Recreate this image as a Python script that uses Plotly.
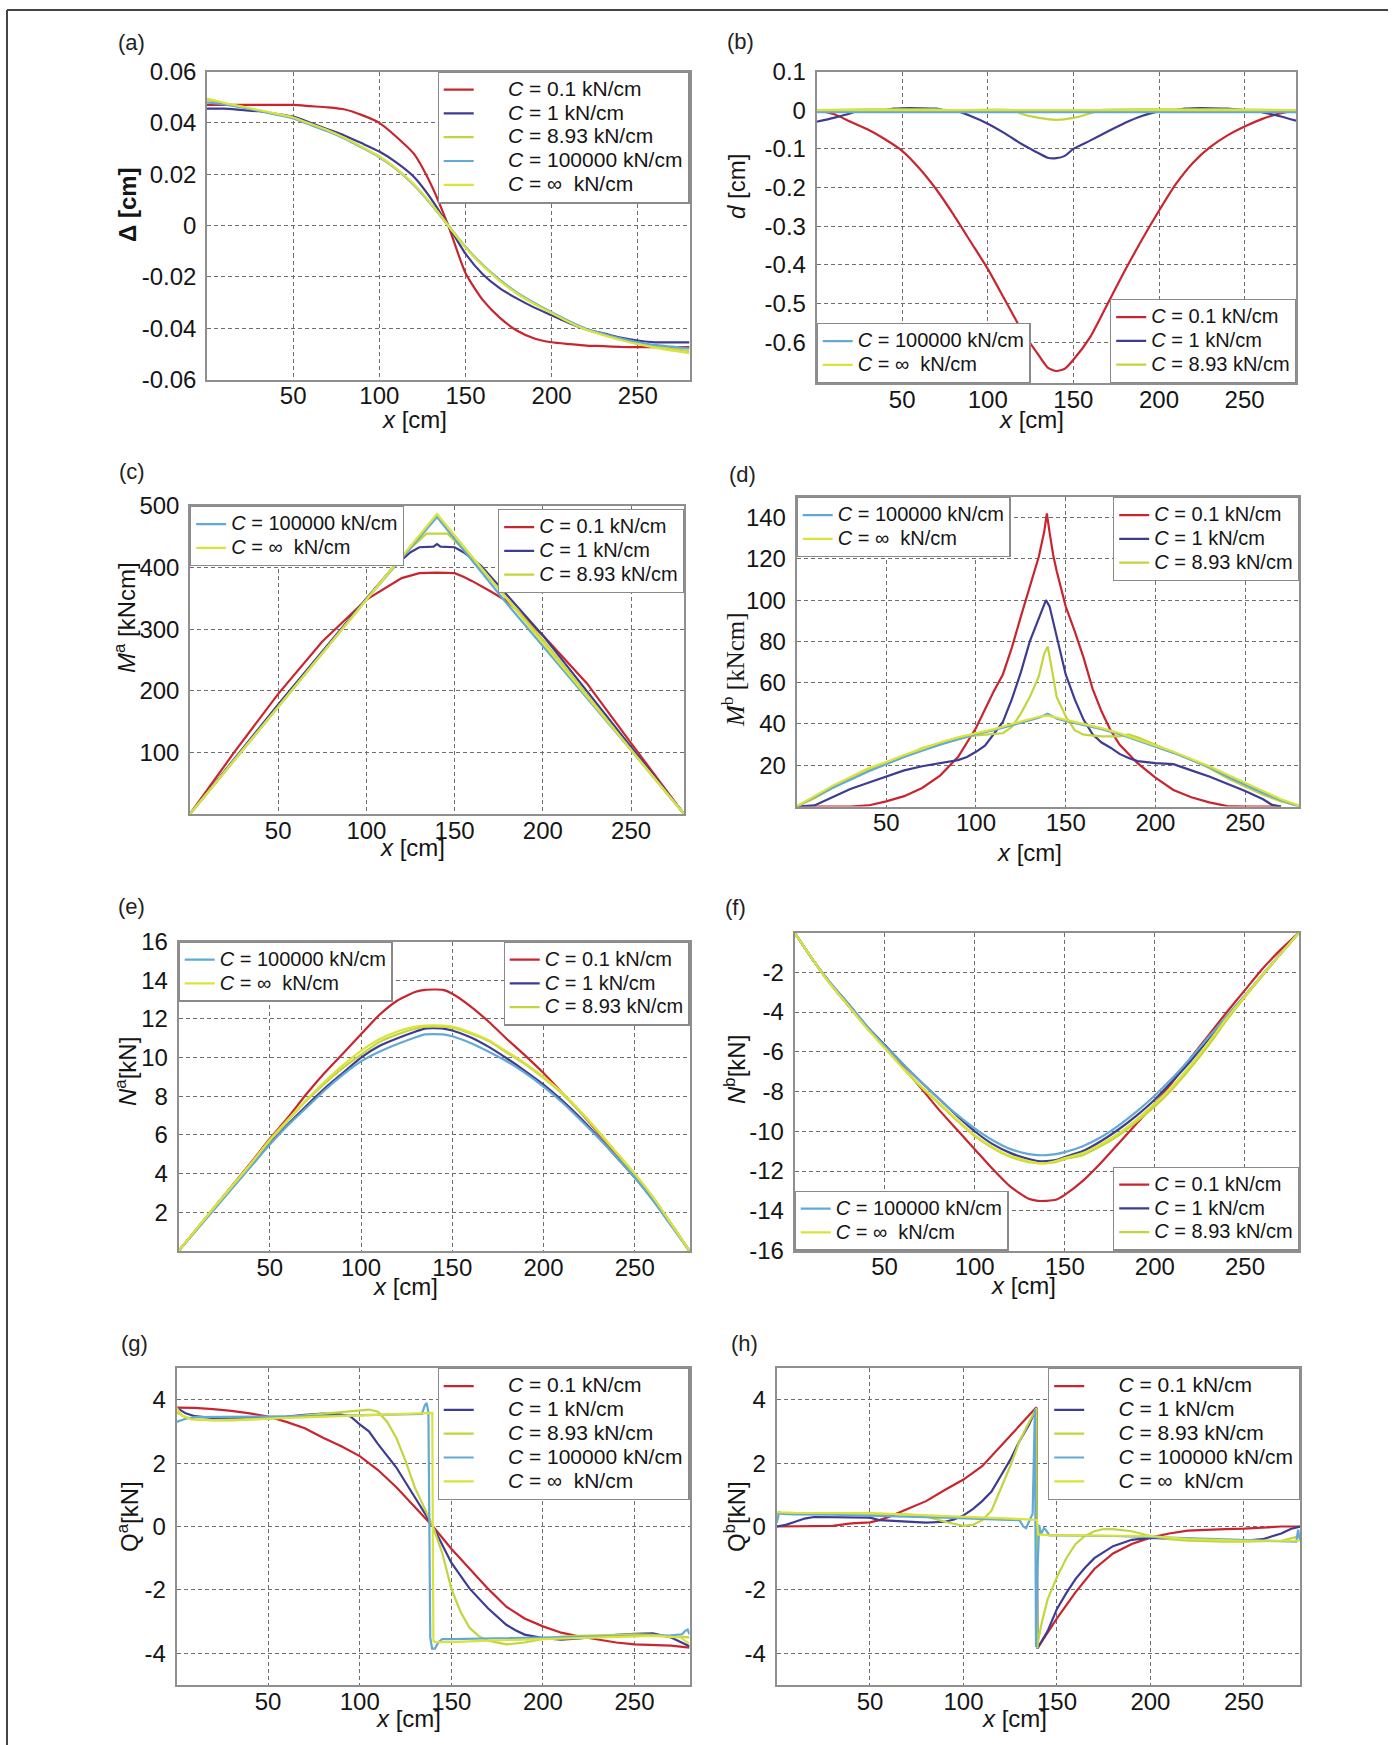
import plotly.graph_objects as go

W, H = 1396, 1745
FONT = "Liberation Sans, Arial, sans-serif"
SERIF = "Liberation Serif, Times New Roman, serif"
TXT = "#151515"

SERIES = ["0.1", "1", "8.93", "100000", "∞"]
COLORS = ["#c9252f", "#3d3c92", "#c3d53c", "#63a9d6", "#dae33a"]

X_TICKS = [50, 100, 150, 200, 250]

# ---------------- (a) Delta [cm] ----------------
A_X = [0, 10, 20, 30, 40, 50, 60, 70, 80, 90, 100, 110, 120, 130, 140, 150, 160, 170, 180, 190, 200, 210, 220, 230, 240, 250, 260, 270, 280]
A_RED = [0.047, 0.047, 0.047, 0.047, 0.047, 0.047, 0.0465, 0.046, 0.0452, 0.043, 0.040, 0.0345, 0.028, 0.016, 0.0, -0.0185, -0.029, -0.036, -0.041, -0.044, -0.0455, -0.0462, -0.0468, -0.047, -0.0473, -0.0474, -0.0474, -0.0474, -0.0474]
A_BLUE = [0.0455, 0.0455, 0.045, 0.0445, 0.0435, 0.0424, 0.040, 0.0375, 0.035, 0.032, 0.0288, 0.0245, 0.019, 0.0105, 0.0, -0.011, -0.019, -0.0245, -0.0285, -0.032, -0.035, -0.038, -0.0405, -0.042, -0.0437, -0.0448, -0.0455, -0.0455, -0.0455]
A_Y893 = [0.049, 0.0475, 0.0462, 0.0448, 0.0435, 0.042, 0.0395, 0.037, 0.034, 0.0305, 0.0268, 0.022, 0.016, 0.0085, 0.0, -0.0085, -0.0155, -0.0215, -0.0265, -0.0305, -0.034, -0.0375, -0.0405, -0.0425, -0.0442, -0.0458, -0.047, -0.048, -0.049]
A_LB = [0.048, 0.0472, 0.046, 0.0447, 0.0432, 0.0417, 0.0392, 0.0367, 0.0338, 0.0303, 0.0266, 0.0219, 0.0158, 0.0083, 0.0, -0.0083, -0.0153, -0.0212, -0.0262, -0.0302, -0.0338, -0.0372, -0.0402, -0.0422, -0.044, -0.0455, -0.0465, -0.0472, -0.048]
A_INF = [0.0495, 0.0478, 0.0464, 0.045, 0.0436, 0.0421, 0.0396, 0.0371, 0.0341, 0.0306, 0.0269, 0.0221, 0.0161, 0.0086, 0.0, -0.0086, -0.0156, -0.0216, -0.0266, -0.0306, -0.0341, -0.0376, -0.0406, -0.0427, -0.0446, -0.0462, -0.0476, -0.0488, -0.0497]

# ---------------- (b) d [cm] ----------------
B_X_RED = [0, 10, 20, 30, 40, 50, 60, 70, 80, 90, 100, 110, 120, 130, 135, 140, 145, 150, 160, 170, 180, 190, 200, 210, 220, 230, 240, 250, 260, 270, 280]
B_RED = [0, -0.01, -0.03, -0.05, -0.075, -0.105, -0.15, -0.205, -0.27, -0.34, -0.41, -0.49, -0.57, -0.635, -0.665, -0.674, -0.668, -0.645, -0.585, -0.5, -0.415, -0.335, -0.26, -0.19, -0.135, -0.095, -0.065, -0.042, -0.023, -0.009, 0]
B_X_BLUE = [0, 10, 20, 25, 30, 40, 45, 50, 60, 70, 75, 80, 90, 100, 110, 120, 125, 130, 135, 140, 145, 150, 160, 170, 180, 190, 200, 210, 215, 220, 230, 240, 250, 255, 260, 270, 280]
B_BLUE = [-0.03, -0.02, -0.008, 0, 0, 0, 0.004, 0.005, 0.005, 0.004, 0, 0, -0.015, -0.035, -0.06, -0.088, -0.1, -0.112, -0.123, -0.124, -0.118, -0.1, -0.078, -0.055, -0.033, -0.015, -0.003, 0, 0.004, 0.005, 0.005, 0.004, 0, 0, -0.005, -0.015, -0.027]
B_X_Y893 = [0, 30, 70, 80, 115, 120, 130, 140, 150, 160, 165, 200, 240, 280]
B_Y893 = [0, 0.002, 0.002, 0, 0, -0.01, -0.02, -0.025, -0.02, -0.008, 0, 0.002, 0.002, 0]
B_X_LB = [0, 70, 140, 210, 280]
B_LB = [-0.005, -0.005, -0.005, -0.005, -0.005]
B_X_INF = [0, 70, 140, 210, 280]
B_INF = [0, 0, 0, 0, 0]

# ---------------- (c) M^a [kNcm] ----------------
C_X_RED = [0, 10, 25, 50, 75, 100, 110, 120, 125, 130, 140, 150, 155, 160, 170, 180, 200, 225, 250, 280]
C_RED = [0, 40, 100, 195, 280, 348, 366, 383, 387, 391, 392, 391, 385, 378, 362, 345, 290, 212, 115, 0]
C_X_BLUE = [0, 50, 100, 115, 125, 130, 138, 140, 142, 150, 155, 165, 200, 250, 280]
C_BLUE = [0, 178, 350, 400, 425, 433, 434, 438, 434, 433, 425, 403, 290, 108, 0]
C_X_Y893 = [0, 50, 100, 120, 134, 146, 160, 200, 250, 280]
C_Y893 = [0, 174, 348, 418, 455, 455, 415, 283, 104, 0]
C_X_LB = [0, 50, 100, 140, 180, 250, 280]
C_LB = [0, 174, 348, 482, 340, 104, 0]
C_X_INF = [0, 70, 140, 210, 280]
C_INF = [0, 243, 487, 243, 0]

# ---------------- (d) M^b [kNcm] ----------------
D_X_RED = [0, 30, 40, 50, 60, 70, 80, 90, 100, 110, 115, 120, 125, 130, 135, 138, 139.5, 141, 143, 145, 150, 155, 160, 165, 170, 175, 180, 190, 200, 210, 220, 230, 240, 250, 270]
D_RED = [0, 0, 0.5, 2.5, 5, 9, 15, 24, 38, 56, 64, 77, 92, 106, 121, 133, 142, 133, 122, 114, 97, 85, 72, 57, 46, 37, 30, 21, 14, 8, 4.5, 2, 0.2, 0, 0]
D_X_BLUE = [0, 10, 20, 30, 40, 50, 60, 70, 80, 90, 95, 100, 105, 110, 115, 120, 125, 130, 135, 139, 141, 145, 150, 155, 160, 165, 170, 175, 180, 185, 190, 200, 210, 220, 230, 240, 250, 260, 265, 270]
D_BLUE = [0, 0.5, 4.5, 8.5, 11.5, 14.5, 17.5, 19.5, 21, 22.5, 24, 26.5, 29.5, 35, 41, 52, 65, 80, 91, 100, 97, 82, 64, 52, 42, 35, 31, 28.5, 25.5, 23.5, 22, 21, 20.5, 17.5, 14.5, 11, 7.5, 3.5, 0.8, 0]
D_X_Y893 = [0, 10, 20, 30, 40, 50, 60, 70, 80, 90, 100, 110, 115, 120, 125, 130, 135, 138, 140, 142, 145, 150, 155, 160, 170, 180, 185, 190, 200, 210, 220, 230, 240, 250, 260, 270, 280]
D_Y893 = [0, 4, 9, 13.8, 17.8, 21, 24.3, 28.3, 30.7, 33, 34.5, 35, 35.5, 38.5, 45, 53, 63, 74, 77.5, 68, 53, 43.7, 37, 34.8, 34, 34, 35, 33.5, 30, 26.5, 22.7, 18.6, 13.8, 9.7, 5.7, 2.4, 0.3]
D_X_LB = [0, 20, 40, 50, 60, 70, 80, 90, 100, 110, 120, 130, 135, 140, 145, 150, 160, 170, 180, 190, 200, 210, 220, 230, 240, 250, 260, 270, 280]
D_LB = [0, 9, 17, 20.5, 24, 27, 30, 32.5, 35, 37, 39.5, 42, 43, 45, 42.5, 41.5, 39.5, 37.5, 35, 32, 29, 26, 22.5, 19, 14.5, 10.5, 6.5, 3, 0]
D_X_INF = [0, 20, 40, 50, 60, 70, 80, 90, 100, 110, 120, 130, 135, 140, 145, 150, 160, 170, 180, 190, 200, 210, 220, 230, 240, 250, 260, 270, 280]
D_INF = [0, 10, 18.5, 21.5, 25, 28, 31, 33.5, 35.5, 37.5, 40, 42.5, 43.5, 44, 43, 42, 40, 38, 35.5, 32.5, 29.5, 26.5, 23, 19.5, 15.5, 11.5, 7.5, 3.5, 0.5]

# ---------------- (e) N^a [kN] ----------------
E_X = [0, 20, 40, 50, 60, 70, 80, 90, 100, 110, 120, 130, 135, 145, 150, 160, 170, 180, 190, 200, 210, 220, 230, 240, 250, 260, 270, 280]
E_RED = [0, 2.3, 4.6, 5.8, 6.9, 8.1, 9.2, 10.2, 11.2, 12.2, 12.95, 13.4, 13.5, 13.5, 13.3, 12.65, 11.85, 10.95, 10.1, 9.2, 8.2, 7.2, 6.1, 5.0, 3.9, 2.75, 1.4, 0]
E_BLUE = [0, 2.25, 4.45, 5.55, 6.55, 7.5, 8.4, 9.2, 10.0, 10.6, 11.0, 11.35, 11.5, 11.5, 11.4, 11.05, 10.55, 9.95, 9.3, 8.6, 7.8, 6.9, 5.9, 4.85, 3.8, 2.65, 1.35, 0]
E_Y893 = [0, 2.3, 4.55, 5.7, 6.75, 7.75, 8.65, 9.45, 10.15, 10.8, 11.2, 11.5, 11.6, 11.6, 11.55, 11.25, 10.85, 10.25, 9.65, 8.95, 8.15, 7.2, 6.15, 5.05, 3.95, 2.75, 1.4, 0]
E_LB = [0, 2.2, 4.4, 5.5, 6.5, 7.4, 8.3, 9.1, 9.8, 10.3, 10.7, 11.05, 11.2, 11.2, 11.1, 10.75, 10.3, 9.8, 9.2, 8.5, 7.7, 6.8, 5.85, 4.85, 3.8, 2.6, 1.3, 0]
E_INF = [0, 2.3, 4.55, 5.75, 6.8, 7.8, 8.75, 9.6, 10.35, 10.95, 11.35, 11.6, 11.65, 11.65, 11.6, 11.3, 10.9, 10.3, 9.7, 9.0, 8.2, 7.25, 6.2, 5.1, 4.0, 2.8, 1.4, 0]

# ---------------- (f) N^b [kN] ----------------
F_X = [0, 10, 20, 30, 40, 50, 60, 70, 80, 90, 100, 110, 120, 130, 135, 140, 145, 150, 160, 170, 180, 190, 200, 210, 220, 230, 240, 250, 260, 270, 280]
F_RED = [0, -1.35, -2.6, -3.7, -4.75, -5.75, -6.75, -7.8, -8.9, -9.9, -10.9, -11.9, -12.8, -13.4, -13.5, -13.5, -13.45, -13.2, -12.5, -11.6, -10.6, -9.6, -8.6, -7.5, -6.3, -5.15, -4.0, -2.9, -1.8, -0.85, 0]
F_BLUE = [0, -1.35, -2.55, -3.6, -4.7, -5.65, -6.6, -7.5, -8.35, -9.2, -10.0, -10.65, -11.1, -11.4, -11.5, -11.5, -11.45, -11.3, -11.0, -10.5, -9.9, -9.2, -8.4, -7.45, -6.45, -5.35, -4.25, -3.2, -2.1, -1.05, 0]
F_Y893 = [0, -1.35, -2.6, -3.7, -4.8, -5.8, -6.8, -7.75, -8.6, -9.45, -10.25, -10.85, -11.3, -11.55, -11.6, -11.6, -11.55, -11.4, -11.2, -10.75, -10.2, -9.5, -8.75, -7.85, -6.8, -5.65, -4.4, -3.25, -2.15, -1.05, 0]
F_LB = [0, -1.35, -2.55, -3.6, -4.7, -5.7, -6.6, -7.5, -8.35, -9.15, -9.85, -10.45, -10.9, -11.15, -11.2, -11.2, -11.15, -11.05, -10.75, -10.3, -9.7, -9.0, -8.2, -7.3, -6.3, -5.25, -4.2, -3.15, -2.1, -1.05, 0]
F_INF = [0, -1.35, -2.6, -3.7, -4.8, -5.8, -6.8, -7.7, -8.55, -9.4, -10.2, -10.8, -11.25, -11.5, -11.6, -11.6, -11.5, -11.35, -11.1, -10.65, -10.1, -9.4, -8.6, -7.7, -6.65, -5.5, -4.3, -3.2, -2.1, -1.05, 0]

# ---------------- (g) Q^a [kN] ----------------
G_X_RED = [0, 10, 20, 30, 40, 50, 60, 70, 80, 90, 100, 110, 120, 130, 140, 150, 160, 170, 180, 190, 200, 210, 220, 230, 240, 250, 260, 270, 280]
G_RED = [3.75, 3.74, 3.7, 3.65, 3.57, 3.47, 3.3, 3.1, 2.8, 2.53, 2.22, 1.78, 1.24, 0.62, 0, -0.7, -1.34, -1.96, -2.53, -2.9, -3.15, -3.35, -3.47, -3.57, -3.66, -3.72, -3.75, -3.76, -3.82]
G_X_BLUE = [0, 5, 10, 20, 30, 40, 50, 60, 70, 80, 90, 95, 100, 105, 110, 120, 130, 140, 150, 160, 170, 180, 185, 190, 200, 210, 220, 230, 240, 250, 260, 270, 280]
G_BLUE = [3.75, 3.57, 3.48, 3.42, 3.42, 3.44, 3.45, 3.47, 3.52, 3.56, 3.53, 3.47, 3.22, 3.0, 2.6, 1.86, 0.93, 0, -1.14, -1.96, -2.58, -3.1, -3.27, -3.41, -3.52, -3.57, -3.53, -3.47, -3.42, -3.39, -3.37, -3.5, -3.78]
G_X_Y893 = [0, 5, 10, 20, 30, 40, 50, 60, 70, 80, 90, 100, 105, 110, 115, 120, 125, 130, 135, 140, 145, 150, 155, 160, 165, 170, 180, 190, 200, 210, 220, 230, 240, 250, 260, 270, 280]
G_Y893 = [3.6, 3.45, 3.38, 3.35, 3.35, 3.37, 3.4, 3.45, 3.5, 3.55, 3.62, 3.67, 3.69, 3.62, 3.3, 2.79, 2.07, 1.24, 0.62, 0, -0.83, -1.96, -2.69, -3.2, -3.46, -3.6, -3.72, -3.66, -3.55, -3.47, -3.45, -3.43, -3.42, -3.4, -3.42, -3.45, -3.5]
G_X_LB = [0, 2, 5, 10, 30, 60, 90, 120, 130, 134, 135.5, 136.5, 137.5, 138.5, 139.5, 141, 143, 145, 150, 180, 210, 240, 260, 270, 276, 277.5, 279, 280]
G_LB = [3.3, 3.35, 3.4, 3.45, 3.45, 3.47, 3.5, 3.52, 3.53, 3.55, 3.82, 3.9, 3.6, -3.5, -3.85, -3.85, -3.65, -3.55, -3.55, -3.52, -3.5, -3.47, -3.45, -3.43, -3.4, -3.3, -3.25, -3.4]
G_X_INF = [0, 3, 8, 20, 40, 60, 80, 100, 120, 139, 139.6, 140.2, 141, 150, 170, 200, 230, 260, 275, 280]
G_INF = [3.75, 3.5, 3.38, 3.36, 3.38, 3.42, 3.46, 3.5, 3.54, 3.58, 3.58, -3.6, -3.65, -3.65, -3.6, -3.55, -3.5, -3.45, -3.5, -3.7]

# ---------------- (h) Q^b [kN] ----------------
H_X_RED = [0, 10, 20, 30, 40, 50, 55, 60, 70, 80, 90, 100, 110, 120, 130, 135, 139, 139.5, 140, 145, 150, 160, 170, 180, 190, 200, 210, 220, 230, 240, 250, 260, 270, 280]
H_RED = [0, 0, 0, 0.02, 0.1, 0.13, 0.2, 0.3, 0.55, 0.8, 1.15, 1.48, 1.9, 2.55, 3.2, 3.5, 3.76, -3.85, -3.8, -3.35, -2.9, -2.07, -1.34, -0.85, -0.55, -0.35, -0.22, -0.13, -0.1, -0.08, -0.07, -0.04, 0, 0]
H_X_BLUE = [0, 5, 10, 15, 20, 30, 40, 50, 55, 60, 70, 80, 90, 95, 100, 105, 110, 115, 120, 125, 130, 135, 139, 139.5, 140, 145, 150, 155, 160, 165, 170, 180, 190, 200, 210, 220, 230, 240, 250, 260, 270, 275, 280]
H_BLUE = [0, 0.05, 0.15, 0.25, 0.3, 0.3, 0.3, 0.28, 0.2, 0.18, 0.15, 0.12, 0.15, 0.22, 0.35, 0.55, 0.8, 1.1, 1.6, 2.1, 2.7, 3.2, 3.74, -3.85, -3.8, -3.3, -2.6, -2.1, -1.65, -1.3, -1.0, -0.62, -0.42, -0.36, -0.38, -0.4, -0.43, -0.45, -0.45, -0.4, -0.22, -0.08, 0]
H_X_Y893 = [0, 10, 30, 50, 70, 80, 90, 100, 105, 110, 115, 120, 125, 130, 135, 139, 139.5, 140, 142, 145, 150, 155, 160, 165, 170, 175, 180, 190, 200, 210, 220, 230, 240, 250, 260, 270, 280]
H_Y893 = [0.4, 0.42, 0.42, 0.4, 0.38, 0.32, 0.15, 0.02, 0.05, 0.2, 0.5, 1.2, 1.9, 2.7, 3.3, 3.74, -3.85, -3.6, -3.0, -2.3, -1.6, -1.0, -0.55, -0.3, -0.15, -0.08, -0.08, -0.15, -0.3, -0.4, -0.45, -0.47, -0.48, -0.48, -0.47, -0.45, -0.3]
H_X_LB = [0, 1.5, 3, 10, 30, 60, 90, 120, 130, 132, 133.5, 135, 137, 138.2, 138.8, 139.5, 140.5, 141.5, 143, 144, 146, 150, 180, 210, 240, 270, 278, 279, 280]
H_LB = [0.1, 0.45, 0.4, 0.38, 0.37, 0.33, 0.28, 0.22, 0.2, 0.0, -0.05, 0.15, 0.4, 3.7, -3.8, -1.5, 0.05, -0.25, -0.05, -0.1, -0.28, -0.28, -0.3, -0.35, -0.4, -0.45, -0.48, -0.1, -0.45]
H_X_INF = [0, 10, 50, 100, 130, 137, 139.3, 140, 145, 180, 200, 220, 250, 280]
H_INF = [0.45, 0.43, 0.42, 0.3, 0.25, 0.22, 0.2, -0.25, -0.27, -0.28, -0.3, -0.4, -0.45, -0.45]

# ---------------- layout description (pixel boxes) ----------------
def pxx(x):
    return x / W

def pxy(y):
    return 1 - y / H

PAD = "\u00a0" * 5

panels = [
    dict(label="(a)", lab=(131, 42), box=(207, 689.5, 71.5, 379.5), yr=[-0.06, 0.06], smooth=True,
         yt=[-0.06, -0.04, -0.02, 0, 0.02, 0.04, 0.06], ytt=["-0.06", "-0.04", "-0.02", "0", "0.02", "0.04", "0.06"],
         ytitle="<b>Δ [cm]</b>", ytitle_pos=(128, 205), xtitle_pos=(414, 419), yfont=FONT,
         data=[(A_X, A_RED), (A_X, A_BLUE), (A_X, A_Y893), (A_X, A_LB), (A_X, A_INF)],
         legends=[([0, 1, 2, 3, 4], (689.5, 71.5), "right", "top", True)]),
    dict(label="(b)", lab=(740, 41), box=(816.5, 1296, 71.5, 383), yr=[-0.705, 0.1], smooth=True,
         yt=[-0.6, -0.5, -0.4, -0.3, -0.2, -0.1, 0, 0.1], ytt=["-0.6", "-0.5", "-0.4", "-0.3", "-0.2", "-0.1", "0", "0.1"],
         ytitle="<i>d</i> [cm]", ytitle_pos=(737, 187), xtitle_pos=(1031, 420), yfont=FONT,
         data=[(B_X_RED, B_RED), (B_X_BLUE, B_BLUE), (B_X_Y893, B_Y893), (B_X_LB, B_LB), (B_X_INF, B_INF)],
         legends=[([3, 4], (816.5, 383), "left", "bottom", False), ([0, 1, 2], (1296, 383), "right", "bottom", False)]),
    dict(label="(c)", lab=(132, 471), box=(190, 684, 506, 814), yr=[0, 500], smooth=False,
         yt=[100, 200, 300, 400, 500], ytt=["100", "200", "300", "400", "500"],
         ytitle="<i>M</i><sup>a</sup> [kNcm]", ytitle_pos=(125, 618), xtitle_pos=(412, 848), yfont=FONT,
         data=[(C_X_RED, C_RED), (C_X_BLUE, C_BLUE), (C_X_Y893, C_Y893), (C_X_LB, C_LB), (C_X_INF, C_INF)],
         legends=[([3, 4], (190, 506), "left", "top", False), ([0, 1, 2], (684, 509), "right", "top", False)]),
    dict(label="(d)", lab=(742, 474), box=(796.5, 1299, 497, 806.5), yr=[0, 150], smooth=False,
         yt=[20, 40, 60, 80, 100, 120, 140], ytt=["20", "40", "60", "80", "100", "120", "140"],
         ytitle="<i>M</i><sup>b</sup> [kNcm]", ytitle_pos=(733, 670), xtitle_pos=(1029, 852), yfont=SERIF,
         data=[(D_X_RED, D_RED), (D_X_BLUE, D_BLUE), (D_X_Y893, D_Y893), (D_X_LB, D_LB), (D_X_INF, D_INF)],
         legends=[([3, 4], (796.5, 497), "left", "top", False), ([0, 1, 2], (1299, 497), "right", "top", False)]),
    dict(label="(e)", lab=(131, 906), box=(178.5, 689.5, 941.5, 1251), yr=[0, 16], smooth=True,
         yt=[2, 4, 6, 8, 10, 12, 14, 16], ytt=["2", "4", "6", "8", "10", "12", "14", "16"],
         ytitle="<i>N</i><sup>a</sup>[kN]", ytitle_pos=(126, 1072), xtitle_pos=(406, 1286), yfont=FONT,
         data=[(E_X, E_RED), (E_X, E_BLUE), (E_X, E_Y893), (E_X, E_LB), (E_X, E_INF)],
         legends=[([3, 4], (178.5, 941.5), "left", "top", False), ([0, 1, 2], (689.5, 941.5), "right", "top", False)]),
    dict(label="(f)", lab=(736, 907), box=(794.5, 1299, 932.5, 1250.5), yr=[-16, 0], smooth=True,
         yt=[-16, -14, -12, -10, -8, -6, -4, -2], ytt=["-16", "-14", "-12", "-10", "-8", "-6", "-4", "-2"],
         ytitle="<i>N</i><sup>b</sup>[kN]", ytitle_pos=(735, 1070), xtitle_pos=(1023, 1285), yfont=FONT,
         data=[(F_X, F_RED), (F_X, F_BLUE), (F_X, F_Y893), (F_X, F_LB), (F_X, F_INF)],
         legends=[([3, 4], (794.5, 1250.5), "left", "bottom", False), ([0, 1, 2], (1299, 1250.5), "right", "bottom", False)]),
    dict(label="(g)", lab=(134, 1343), box=(176.5, 689.5, 1368, 1685), yr=[-5, 5], smooth=False,
         yt=[-4, -2, 0, 2, 4], ytt=["-4", "-2", "0", "2", "4"],
         ytitle="Q<sup>a</sup>[kN]", ytitle_pos=(128, 1517), xtitle_pos=(408, 1718), yfont=FONT,
         data=[(G_X_RED, G_RED), (G_X_BLUE, G_BLUE), (G_X_Y893, G_Y893), (G_X_LB, G_LB), (G_X_INF, G_INF)],
         legends=[([0, 1, 2, 3, 4], (689.5, 1368), "right", "top", True)]),
    dict(label="(h)", lab=(744, 1343), box=(776.5, 1300, 1368, 1685), yr=[-5, 5], smooth=False,
         yt=[-4, -2, 0, 2, 4], ytt=["-4", "-2", "0", "2", "4"],
         ytitle="Q<sup>b</sup>[kN]", ytitle_pos=(735, 1517), xtitle_pos=(1014, 1718), yfont=FONT,
         data=[(H_X_RED, H_RED), (H_X_BLUE, H_BLUE), (H_X_Y893, H_Y893), (H_X_LB, H_LB), (H_X_INF, H_INF)],
         legends=[([0, 1, 2, 3, 4], (1300, 1368), "right", "top", True)]),
]

fig = go.Figure()
layout = dict(
    width=W, height=H, margin=dict(l=0, r=0, t=0, b=0, autoexpand=False),
    paper_bgcolor="white", plot_bgcolor="white",
    font=dict(family=FONT, color=TXT, size=24),
    annotations=[], shapes=[],
)

legend_count = 0
for i, p in enumerate(panels):
    n = "" if i == 0 else str(i + 1)
    x0, x1, y0, y1 = p["box"]
    axis_common = dict(showline=True, mirror=True, linecolor="#8f8f8f", linewidth=1.5,
                       showgrid=True, gridcolor="#6e6e6e", griddash="4px,3px", gridwidth=1,
                       zeroline=False, ticks="", tickfont=dict(family=FONT, size=24, color=TXT))
    layout["xaxis" + n] = dict(domain=[pxx(x0), pxx(x1)], range=[0, 280], anchor="y" + n,
                               tickvals=X_TICKS, ticktext=[str(v) for v in X_TICKS],
                               ticklabelstandoff=-6, **axis_common)
    layout["yaxis" + n] = dict(domain=[pxy(y1), pxy(y0)], range=p["yr"], anchor="x" + n,
                               tickvals=p["yt"], ticktext=p["ytt"], ticklabelstandoff=4, **axis_common)

    member_legend = {}
    for members, (lx, ly), xa, ya, padded in p["legends"]:
        legend_count += 1
        lid = "legend" if legend_count == 1 else "legend" + str(legend_count)
        for m in members:
            member_legend[m] = (lid, padded)
        layout[lid] = dict(x=pxx(lx), y=pxy(ly), xanchor=xa, yanchor=ya,
                           bgcolor="white", bordercolor="#8a8a8a", borderwidth=1.2,
                           font=dict(family=FONT, size=16, color=TXT),
                           tracegroupgap=0, itemwidth=30)

    for k, (xs, ys) in enumerate(p["data"]):
        lid, padded = member_legend[k]
        val = SERIES[k]
        core = "<i>C</i> = " + (val + "\u00a0 kN/cm" if val == "∞" else val + " kN/cm")
        fs = 21 if padded else 20
        name = '<span style="font-size:%dpx">%s%s</span>' % (fs, PAD if padded else "", core)
        line = dict(color=COLORS[k], width=2.2)
        if p["smooth"]:
            line.update(shape="spline", smoothing=0.6)
        fig.add_trace(go.Scatter(
            x=xs, y=ys, mode="lines", name=name, line=line,
            xaxis="x" + n, yaxis="y" + n, legend=lid, showlegend=True,
        ))

    layout["annotations"].append(dict(text=p["label"], x=pxx(p["lab"][0]), y=pxy(p["lab"][1]),
                                      xref="paper", yref="paper", showarrow=False,
                                      xanchor="center", yanchor="middle",
                                      font=dict(family=FONT, size=22, color="#222")))
    layout["annotations"].append(dict(text="<i>x</i> [cm]", x=pxx(p["xtitle_pos"][0]), y=pxy(p["xtitle_pos"][1]),
                                      xref="paper", yref="paper", showarrow=False,
                                      xanchor="center", yanchor="middle",
                                      font=dict(family=FONT, size=24, color=TXT)))
    layout["annotations"].append(dict(text=p["ytitle"], x=pxx(p["ytitle_pos"][0]), y=pxy(p["ytitle_pos"][1]),
                                      xref="paper", yref="paper", showarrow=False, textangle=-90,
                                      xanchor="center", yanchor="middle",
                                      font=dict(family=p["yfont"], size=24 if p["yfont"] == FONT else 25, color=TXT)))

# outer frame of the figure
layout["shapes"].append(dict(type="line", xref="paper", yref="paper", x0=pxx(7), x1=pxx(7), y0=pxy(10), y1=0,
                             line=dict(color="#444", width=2)))
layout["shapes"].append(dict(type="line", xref="paper", yref="paper", x0=pxx(7), x1=pxx(1388), y0=pxy(10), y1=pxy(10),
                             line=dict(color="#444", width=2)))

fig.update_layout(**layout)
fig.write_html("out.html", config={"displayModeBar": False, "responsive": False},
               post_script="document.body.style.margin='0';document.body.style.overflow='hidden';")
